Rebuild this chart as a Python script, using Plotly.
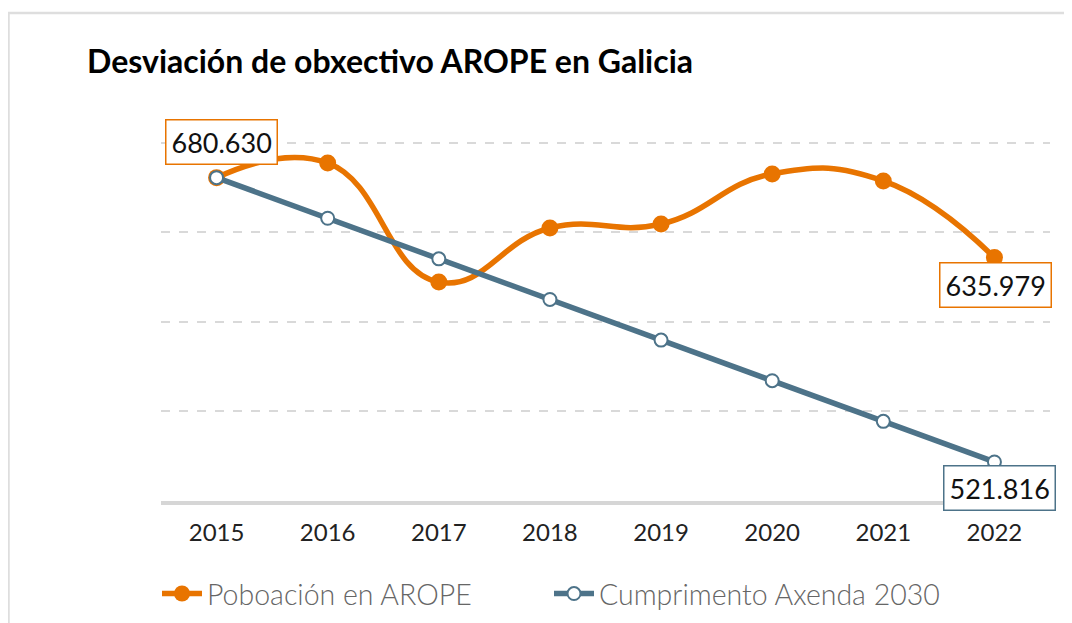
import plotly.graph_objects as go

years = ["2015", "2016", "2017", "2018", "2019", "2020", "2021", "2022"]
arope = [680.630, 688.8, 622.3, 652.5, 654.7, 682.7, 678.8, 635.979]
axenda = [680.630, 657.942, 635.254, 612.566, 589.878, 567.190, 544.502, 521.816]

ORANGE = "#E87400"
BLUE = "#4D7389"
FONT = "Lato"

OFF = 8  # page body margin
YMAX = 705
PXU = 358 / 200.0  # pixels per unit
W, H = 1072 - OFF, 623 - OFF
L = 161 - OFF
T = round(143 - (YMAX - 700) * PXU) - OFF
PR, PB = 1050 - OFF, 501 - OFF
R, B = W - PR, H - PB
pw, ph = PR - L, PB - T

fig = go.Figure()
fig.add_trace(go.Scatter(
    x=years, y=arope, name="Poboación en AROPE", mode="lines+markers",
    line=dict(color=ORANGE, width=5.5, shape="spline", smoothing=1.3),
    marker=dict(size=17, color=ORANGE), cliponaxis=False, legend="legend",
))
fig.add_trace(go.Scatter(
    x=years, y=axenda, name="Cumprimento Axenda 2030", mode="lines+markers",
    line=dict(color=BLUE, width=5.5),
    marker=dict(size=13, color="white", line=dict(color=BLUE, width=2)), cliponaxis=False,
    legend="legend2",
))


def ann(i, vals, color, yshift, xshift=0):
    v = vals[i]
    return dict(x=i, y=v, xref="x", yref="y", text=f"{v:.3f}", showarrow=False,
                yshift=yshift, xshift=xshift,
                font=dict(family=FONT, size=27, color="#111"), bgcolor="white",
                bordercolor=color, borderwidth=1.5, borderpad=5)


fy = lambda page_y: (PB - (page_y - OFF)) / ph
fx = lambda page_x: ((page_x - OFF) - L) / pw

legend_font = dict(family=FONT, size=28.5, color="#666", weight=300)

fig.update_layout(
    width=W, height=H,
    margin=dict(l=L, r=R, t=T, b=B, pad=0, autoexpand=False),
    paper_bgcolor="white", plot_bgcolor="white",
    title=dict(text="<b>Desviación de obxectivo AROPE en Galicia</b>",
               x=(87 - OFF) / W, xref="container", xanchor="left",
               y=1 - (62 - OFF) / H, yref="container", yanchor="middle",
               font=dict(family=FONT, size=32, color="#000", weight=900)),
    xaxis=dict(type="category", range=[-0.5, 7.5], showgrid=False,
               showline=True, linecolor="#d6d6d6", linewidth=4,
               ticks="", tickfont=dict(family=FONT, size=24, color="#222"),
               ticklabelstandoff=7),
    yaxis=dict(range=[500, YMAX], tickvals=[550, 600, 650, 700], showgrid=True,
               gridcolor="#d9d9d9", gridwidth=1.5, griddash="dash",
               showticklabels=False, zeroline=False, showline=False, ticks=""),
    legend=dict(orientation="h", x=fx(157), xanchor="left",
                y=fy(594), yanchor="middle", font=legend_font, itemwidth=40),
    legend2=dict(orientation="h", x=fx(549), xanchor="left",
                 y=fy(594), yanchor="middle", font=legend_font, itemwidth=40),
    annotations=[
        ann(0, arope, ORANGE, 36, 5),
        ann(7, arope, ORANGE, -27, 1),
        ann(7, axenda, BLUE, -26, 5),
    ],
    shapes=[
        dict(type="line", xref="paper", yref="paper",
             x0=fx(7), x1=fx(1090), y0=fy(13), y1=fy(13),
             line=dict(color="#dedede", width=2.5)),
        dict(type="line", xref="paper", yref="paper",
             x0=fx(8.5), x1=fx(8.5), y0=fy(13), y1=fy(640),
             line=dict(color="#dedede", width=2.5)),
    ],
    showlegend=True,
)

fig.write_html("out.html")
